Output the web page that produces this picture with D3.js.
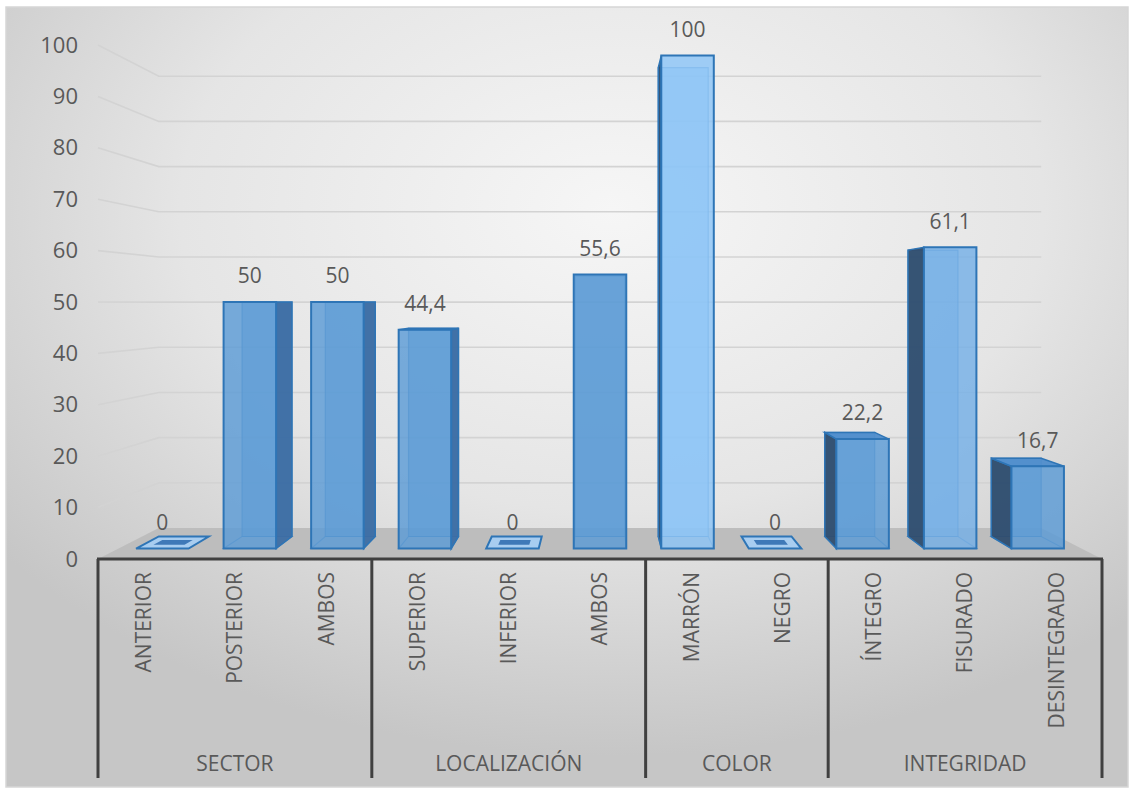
<!DOCTYPE html>
<html>
<head>
<meta charset="utf-8">
<script src="https://cdn.jsdelivr.net/npm/d3@7"></script>
<style>
  body { margin: 0; background: #ffffff; }
  svg { display: block; }
  text { font-family: "Open Sans", "DejaVu Sans", sans-serif; fill: #595959; }
</style>
</head>
<body>
<svg id="chart" width="1134" height="796"></svg>
<script>
// ---- data ----
const groups = ["SECTOR", "LOCALIZACIÓN", "COLOR", "INTEGRIDAD"];
const groupSizes = [3, 3, 2, 3];
const categories = ["ANTERIOR", "POSTERIOR", "AMBOS", "SUPERIOR", "INFERIOR", "AMBOS",
                    "MARRÓN", "NEGRO", "ÍNTEGRO", "FISURADO", "DESINTEGRADO"];
const values = [0, 50, 50, 44.4, 0, 55.6, 100, 0, 22.2, 61.1, 16.7];
const yTicks = [0, 10, 20, 30, 40, 50, 60, 70, 80, 90, 100];

const fmt = v => String(v).replace(".", ",");

// ---- layout / projection ----
const svg = d3.select("#chart");
const idx = d3.range(categories.length);
const x = d3.scaleBand().domain(idx).range([98, 1102]);
const y = d3.scaleLinear().domain([0, 100]).range([559, 45]);

const vp = [600, 303];          // vanishing point
const persp = 0.1377;           // depth shrink factor
const barDepth = [0.31, 0.70];  // bar front / back depth (0 = front plane, 1 = back wall)
const barFrac = 0.6;            // bar width as share of the band

function P(xf, v, z) {
  const s = 1 / (1 + persp * z);
  return [vp[0] + (xf - vp[0]) * s, vp[1] + (y(v) - vp[1]) * s];
}
const poly = pts => "M" + pts.map(p => p[0].toFixed(2) + "," + p[1].toFixed(2)).join("L") + "Z";

// ---- background ----
const defs = svg.append("defs");
const bg = defs.append("radialGradient").attr("id", "bgGrad")
  .attr("cx", "54%").attr("cy", "26%").attr("r", "70%");
bg.append("stop").attr("offset", "0%").attr("stop-color", "#f6f6f6");
bg.append("stop").attr("offset", "55%").attr("stop-color", "#e5e5e5");
bg.append("stop").attr("offset", "100%").attr("stop-color", "#c6c6c6");

svg.append("rect").attr("x", 6).attr("y", 7).attr("width", 1122).attr("height", 780)
  .attr("fill", "url(#bgGrad)").attr("stroke", "#d6d6d6").attr("stroke-width", 1.5);

const x0 = x.range()[0], x1 = x.range()[1];

// ---- gridlines on the side and back walls ----
svg.append("g").selectAll("path").data(yTicks.filter(t => t > 0)).join("path")
  .attr("d", t => "M" + [P(x0, t, 0), P(x0, t, 1), P(x1, t, 1)].map(p => p.join(",")).join("L"))
  .attr("fill", "none").attr("stroke", "#d3d3d3").attr("stroke-width", 1.6);

// ---- floor ----
svg.append("path")
  .attr("d", poly([P(x0, 0, 0), P(x1, 0, 0), P(x1, 0, 1), P(x0, 0, 1)]))
  .attr("fill", "#bdbdbd");

// ---- bars ----
const frontColor = d3.scaleLinear().domain([56, 62, 100])
  .range(["#5b9bd5", "#79b4ea", "#8cc5f6"]).clamp(true);
const edge = "#2e75b6";
const barsG = svg.append("g");

idx.forEach(i => {
  const v = values[i];
  const xc = x(i) + x.bandwidth() / 2;
  const hw = x.bandwidth() * barFrac / 2;
  const xl = xc - hw, xr = xc + hw;
  const [z0, z1] = barDepth;
  const FBL = P(xl, 0, z0), FBR = P(xr, 0, z0), FTL = P(xl, v, z0), FTR = P(xr, v, z0);
  const BBL = P(xl, 0, z1), BBR = P(xr, 0, z1), BTL = P(xl, v, z1), BTR = P(xr, v, z1);
  const g = barsG.append("g");
  const col = frontColor(v);

  if (v === 0) {
    // flat marker for empty categories
    g.append("path").attr("d", poly([FTL, FTR, BTR, BTL]))
      .attr("fill", "#a8cdf0").attr("stroke", edge).attr("stroke-width", 2);
    const ixl = xl + (xr - xl) * 0.2, ixr = xr - (xr - xl) * 0.2;
    const za = z0 + (z1 - z0) * 0.3, zb = z1 - (z1 - z0) * 0.3;
    g.append("path").attr("d", poly([P(ixl, 0, za), P(ixr, 0, za), P(ixr, 0, zb), P(ixl, 0, zb)]))
      .attr("fill", "#3f79b8");
    return;
  }

  const rightVisible = xr < vp[0];
  const leftVisible = xl > vp[0];
  const topVisible = y(v) > vp[1];

  // back face and hidden edges (seen through the translucent fill)
  g.append("path").attr("d", poly([BBL, BBR, BTR, BTL]))
    .attr("fill", col).attr("fill-opacity", 0.55)
    .attr("stroke", edge).attr("stroke-width", 1.2).attr("stroke-opacity", 0.6);
  g.append("path").attr("d", poly([FBL, FBR, BBR, BBL]))
    .attr("fill", "none").attr("stroke", edge).attr("stroke-width", 1.2).attr("stroke-opacity", 0.6);

  if (rightVisible) {
    g.append("path").attr("d", poly([FBR, BBR, BTR, FTR]))
      .attr("fill", "#3c6da3").attr("fill-opacity", 0.95)
      .attr("stroke", edge).attr("stroke-width", 1.5);
  }
  if (leftVisible) {
    g.append("path").attr("d", poly([FBL, BBL, BTL, FTL]))
      .attr("fill", "#2f4d6e").attr("fill-opacity", 0.95)
      .attr("stroke", edge).attr("stroke-width", 1.5);
  }
  if (topVisible) {
    g.append("path").attr("d", poly([FTL, FTR, BTR, BTL]))
      .attr("fill", "#4f8dcc").attr("fill-opacity", 0.95)
      .attr("stroke", edge).attr("stroke-width", 1.5);
  }
  g.append("path").attr("d", poly([FBL, FBR, FTR, FTL]))
    .attr("fill", col).attr("fill-opacity", 0.82)
    .attr("stroke", edge).attr("stroke-width", 2);
});

// ---- value labels ----
svg.append("g").selectAll("text").data(idx).join("text")
  .attr("x", i => (P(x(i) + x.bandwidth() * (0.5 - barFrac / 2), values[i], barDepth[0])[0] +
                   P(x(i) + x.bandwidth() * (0.5 + barFrac / 2), values[i], barDepth[0])[0]) / 2)
  .attr("y", i => P(x(i), values[i], barDepth[0])[1] - 26)
  .attr("dy", "0.35em")
  .attr("text-anchor", "middle")
  .style("font-size", "21px")
  .text(i => fmt(values[i]));

// ---- value axis ----
const yAxis = svg.append("g").attr("transform", `translate(${x0},0)`)
  .call(d3.axisLeft(y).tickValues(yTicks).tickSize(0).tickPadding(20).tickFormat(d3.format("d")));
yAxis.select(".domain").remove();
yAxis.selectAll("text").style("font-size", "22px").attr("fill", "#595959")
  .style("font-family", "'Open Sans', sans-serif");

// ---- category axis ----
const axisY = y(0);
svg.append("line").attr("x1", x0 - 1).attr("x2", x1 + 1).attr("y1", axisY).attr("y2", axisY)
  .attr("stroke", "#404040").attr("stroke-width", 3);

const bounds = [0];
groupSizes.forEach(n => bounds.push(bounds[bounds.length - 1] + n));
const bx = b => (b >= categories.length ? x1 : x(b));

svg.append("g").selectAll("line").data(bounds).join("line")
  .attr("x1", b => bx(b)).attr("x2", b => bx(b))
  .attr("y1", axisY).attr("y2", 778)
  .attr("stroke", "#404040").attr("stroke-width", 3);

svg.append("g").selectAll("text").data(idx).join("text")
  .attr("transform", i => `translate(${x(i) + x.bandwidth() / 2},572) rotate(-90)`)
  .attr("dy", "0.35em")
  .attr("text-anchor", "end")
  .style("font-size", "21px")
  .text(i => categories[i]);

svg.append("g").selectAll("text").data(groups).join("text")
  .attr("x", (g, k) => (bx(bounds[k]) + bx(bounds[k + 1])) / 2)
  .attr("y", 764)
  .attr("dy", "0.35em")
  .attr("text-anchor", "middle")
  .style("font-size", "21px")
  .text(g => g);
</script>
</body>
</html>
